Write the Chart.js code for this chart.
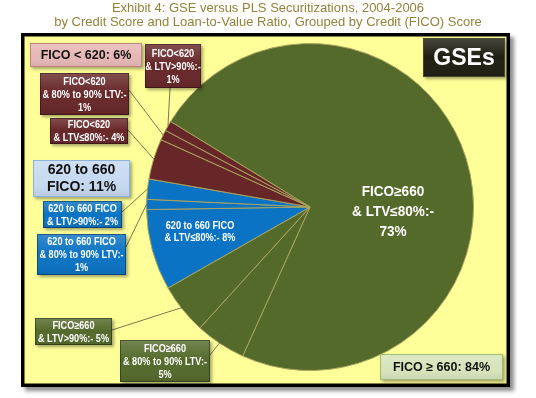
<!DOCTYPE html>
<html>
<head>
<meta charset="utf-8">
<script src="https://cdn.jsdelivr.net/npm/chart.js@4.4.0/dist/chart.umd.min.js"></script>
<style>
  html, body { margin: 0; padding: 0; background: #fff; }
  #wrap { width: 536px; height: 398px; }
</style>
</head>
<body>
<div id="wrap"><canvas id="myChart"></canvas></div>
<script>
// --- data ---
const chartTitle = [
  'Exhibit 4: GSE versus PLS Securitizations, 2004-2006',
  'by Credit Score and Loan-to-Value Ratio, Grouped by Credit (FICO) Score'
];
const sliceNames = [
  'FICO≥660 & LTV≤80%', 'FICO≥660 & 80% to 90% LTV', 'FICO≥660 & LTV>90%',
  '620 to 660 FICO & LTV≤80%', '620 to 660 FICO & 80% to 90% LTV', '620 to 660 FICO & LTV>90%',
  'FICO<620 & LTV≤80%', 'FICO<620 & 80% to 90% LTV', 'FICO<620 & LTV>90%'
];
const sliceShares = [73, 5, 5, 8, 1, 2, 4, 1, 1];
// label text, the share gets added to the last line
const sliceLabelLines = [
  ['FICO≥660', '& LTV≤80%:-', ''],
  ['FICO≥660', '& 80% to 90% LTV:-', ''],
  ['FICO≥660', '& LTV>90%:-'],
  ['620 to 660 FICO', '& LTV≤80%:-'],
  ['620 to 660 FICO', '& 80% to 90% LTV:-', ''],
  ['620 to 660 FICO', '& LTV>90%:-'],
  ['FICO<620', '& LTV≤80%:-'],
  ['FICO<620', '& 80% to 90% LTV:-', ''],
  ['FICO<620', '& LTV>90%:-', '']
];
const groupLabels = [['FICO ≥ 660: 84%'], ['620 to 660', 'FICO: 11%'], ['FICO < 620: 6%']];
const panelLabel = 'GSEs';

// --- styling / layout ---
const GREEN = '#546a2b', BLUE = '#0b73c3', MAROON = '#672729';
const sliceColors = [GREEN, GREEN, GREEN, BLUE, BLUE, BLUE, MAROON, MAROON, MAROON];

// inside: text centre; otherwise a box plus the point where the leader starts
const calloutLayout = [
  { inside: true, cx: 393, cy: 212, size: 14, lh: 20, sx: 0.97 },
  { x: 120, y: 340, w: 90, h: 42, ax: 210, ay: 355, k: 0.93 },
  { x: 35,  y: 318, w: 77, h: 27, ax: 112, ay: 330, k: 0.97 },
  { inside: true, cx: 200, cy: 232, size: 11, lh: 12, sx: 0.83 },
  { x: 37,  y: 234, w: 89, h: 41, ax: 126, ay: 247, k: 1 },
  { x: 43,  y: 201, w: 79, h: 27, ax: 122, ay: 212, k: 1 },
  { x: 50,  y: 118, w: 78, h: 26, ax: 128, ay: 130, k: 1 },
  { x: 40,  y: 73,  w: 89, h: 42, ax: 129, ay: 90,  k: 1 },
  { x: 145, y: 44,  w: 56, h: 44, ax: 170, ay: 88,  k: 1 }
];
const groupLayout = [
  { x: 380, y: 354, w: 123, h: 26, fill: '#d7e4bb', stroke: '#a3b873', size: 12.5, lh: 15 },
  { x: 33,  y: 160, w: 97,  h: 37, fill: '#c7daf1', stroke: '#8eb1dd', size: 14, lh: 17 },
  { x: 30,  y: 43,  w: 112, h: 24, fill: '#e6b8b6', stroke: '#c08480', size: 12.5, lh: 15 }
];
const FONT = '"Liberation Sans", Arial, sans-serif';

function drawLines(ctx, lines, cx, cy, lh, size, color, sx) {
  ctx.save();
  ctx.font = 'bold ' + size + 'px ' + FONT;
  ctx.fillStyle = color;
  ctx.textAlign = 'center';
  ctx.textBaseline = 'middle';
  const y0 = cy - (lines.length - 1) * lh / 2;
  lines.forEach((t, i) => {
    ctx.save();
    ctx.translate(cx, y0 + i * lh);
    ctx.scale(sx || 1, 1);
    ctx.fillText(t, 0, 0);
    ctx.restore();
  });
  ctx.restore();
}

function drawBox(ctx, b, fill, stroke) {
  ctx.save();
  ctx.shadowColor = 'rgba(0,0,0,0.35)';
  ctx.shadowBlur = 3;
  ctx.shadowOffsetX = 2;
  ctx.shadowOffsetY = 2;
  ctx.fillStyle = fill;
  ctx.fillRect(b.x, b.y, b.w, b.h);
  ctx.restore();
  const g = ctx.createLinearGradient(0, b.y, 0, b.y + b.h);
  g.addColorStop(0, 'rgba(255,255,255,0.18)');
  g.addColorStop(0.5, 'rgba(255,255,255,0)');
  g.addColorStop(1, 'rgba(0,0,0,0.08)');
  ctx.fillStyle = g;
  ctx.fillRect(b.x, b.y, b.w, b.h);
  ctx.strokeStyle = stroke;
  ctx.lineWidth = 1;
  ctx.strokeRect(b.x + 0.5, b.y + 0.5, b.w - 1, b.h - 1);
}

function labelText(i) {
  const lines = sliceLabelLines[i].slice();
  const last = lines.length - 1;
  lines[last] = (lines[last] ? lines[last] + ' ' : '') + sliceShares[i] + '%';
  return lines;
}

const framePlugin = {
  id: 'frame',
  beforeDraw(chart) {
    const ctx = chart.ctx;
    ctx.save();
    ctx.fillStyle = '#fff';
    ctx.fillRect(0, 0, chart.width, chart.height);
    ctx.font = '13px ' + FONT;
    ctx.fillStyle = '#94823a';
    ctx.textAlign = 'center';
    ctx.textBaseline = 'middle';
    ctx.fillText(chartTitle[0], 268, 8);
    ctx.fillText(chartTitle[1], 268, 22);
    ctx.shadowColor = 'rgba(0,0,0,0.45)';
    ctx.shadowBlur = 4;
    ctx.shadowOffsetX = 4;
    ctx.shadowOffsetY = 4;
    ctx.fillStyle = '#000';
    ctx.fillRect(21, 33, 489, 354);
    ctx.restore();
    ctx.fillStyle = '#ffff9a';
    ctx.fillRect(24.5, 36.5, 482, 347);
  }
};

const calloutPlugin = {
  id: 'callouts',
  afterDatasetsDraw(chart) {
    const ctx = chart.ctx;
    const arcs = chart.getDatasetMeta(0).data;
    // leader lines
    ctx.save();
    ctx.strokeStyle = '#55553a';
    ctx.lineWidth = 0.8;
    calloutLayout.forEach((c, i) => {
      if (c.inside) return;
      const a = arcs[i];
      const mid = (a.startAngle + a.endAngle) / 2;
      const r = a.outerRadius * c.k;
      ctx.beginPath();
      ctx.moveTo(c.ax, c.ay);
      ctx.lineTo(a.x + Math.cos(mid) * r, a.y + Math.sin(mid) * r);
      ctx.stroke();
    });
    ctx.restore();
    // slice labels
    calloutLayout.forEach((c, i) => {
      const lines = labelText(i);
      if (c.inside) {
        drawLines(ctx, lines, c.cx, c.cy, c.lh, c.size, '#fff', c.sx);
      } else {
        drawBox(ctx, c, sliceColors[i], 'rgba(0,0,0,0.35)');
        drawLines(ctx, lines, c.x + c.w / 2, c.y + c.h / 2 + 0.5, 13, 11, '#fff', 0.83);
      }
    });
    // group totals
    groupLayout.forEach((g, i) => {
      drawBox(ctx, g, g.fill, g.stroke);
      drawLines(ctx, groupLabels[i], g.x + g.w / 2, g.y + g.h / 2 + 0.5, g.lh, g.size, '#111', 1);
    });
    // panel tag
    const p = { x: 423, y: 38, w: 82, h: 39 };
    drawBox(ctx, p, '#1f1e12', '#4a4a30');
    drawLines(ctx, [panelLabel], p.x + p.w / 2, p.y + p.h / 2 + 1, 24, 23, '#fff', 1);
  }
};

const ctx = document.getElementById('myChart');
new Chart(ctx, {
  type: 'pie',
  data: {
    labels: sliceNames,
    datasets: [{
      data: sliceShares,
      backgroundColor: sliceColors,
      borderColor: '#a9a35e',
      borderWidth: 1
    }]
  },
  options: {
    responsive: true,
    maintainAspectRatio: false,
    animation: false,
    devicePixelRatio: 1,
    rotation: -58.5,
    layout: {
      padding: { top: 43, bottom: 27, left: 146, right: 62 }
    },
    plugins: {
      legend: { display: false },
      tooltip: { enabled: false },
      title: { display: false }
    }
  },
  plugins: [framePlugin, calloutPlugin]
});
</script>
</body>
</html>
